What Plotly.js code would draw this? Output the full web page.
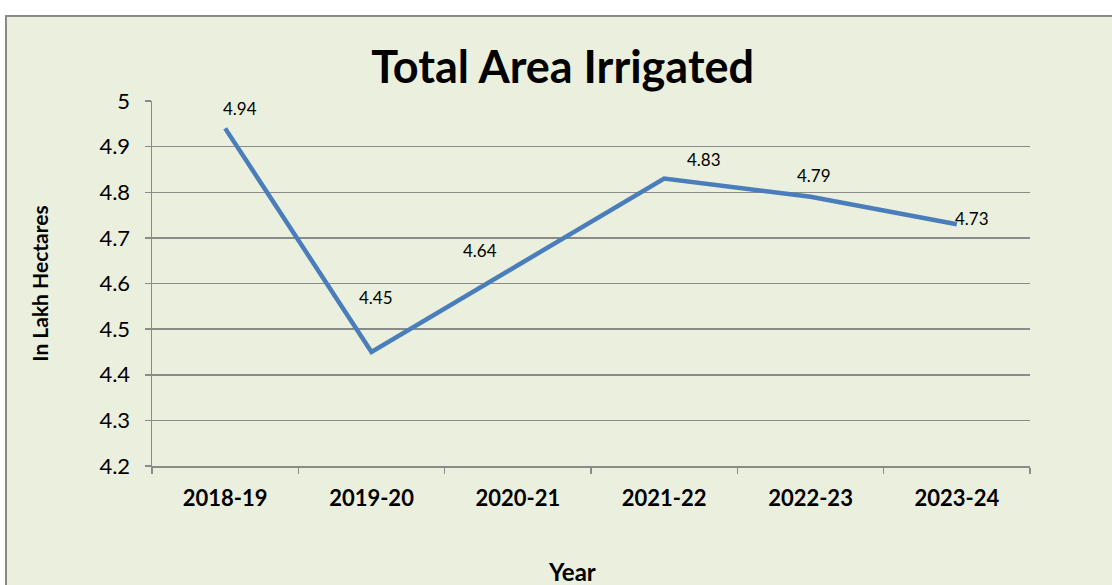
<!DOCTYPE html>
<html>
<head>
<meta charset="utf-8">
<script src="https://cdn.plot.ly/plotly-3.0.1.min.js"></script>
<style>html,body{margin:0;padding:0;background:#fff;}#chart{width:1112px;height:585px;}</style>
</head>
<body>
<div id="chart"></div>
<script>
const years = ["2018-19", "2019-20", "2020-21", "2021-22", "2022-23", "2023-24"];
const irrigatedArea = [4.94, 4.45, 4.64, 4.83, 4.79, 4.73];
const labelShiftX = [15, 4, -38, 40, 3, 15];
const labelShiftY = [20, 54, 15, 19, 21, 6];

const FONT = "Lato, 'Open Sans', sans-serif";
const GRID = "#8a8a8a";

const trace = {
  type: "scatter",
  mode: "lines",
  x: years,
  y: irrigatedArea,
  line: {color: "#4A7EBB", width: 4.5},
  hoverinfo: "x+y"
};

const annotations = years.map((yr, i) => ({
  x: yr, y: irrigatedArea[i], xref: "x", yref: "y",
  text: irrigatedArea[i].toFixed(2),
  showarrow: false, xshift: labelShiftX[i], yshift: labelShiftY[i],
  font: {family: FONT, size: 17, color: "#000"}
}));
annotations.push({
  text: "<b>Year</b>", showarrow: false,
  xref: "paper", yref: "paper",
  x: (572 - 152) / 878, y: (466 - 571) / 365,
  xanchor: "center", yanchor: "middle",
  font: {family: FONT, size: 24, color: "#000"}
});

const layout = {
  width: 1112, height: 585,
  margin: {l: 152, r: 82, t: 101, b: 119},
  paper_bgcolor: "#ffffff",
  plot_bgcolor: "rgba(0,0,0,0)",
  showlegend: false,
  title: {
    text: "<b>Total Area Irrigated</b>",
    font: {family: FONT, size: 45, color: "#000"},
    xref: "container", x: 0.506, xanchor: "center",
    yref: "container", y: 0.885, yanchor: "middle"
  },
  xaxis: {
    type: "category",
    range: [-0.5, 5.5],
    tickson: "boundaries",
    ticks: "outside", ticklen: 6, tickcolor: GRID, tickwidth: 1.5,
    showline: true, linecolor: GRID, linewidth: 1.5,
    showgrid: false, zeroline: false,
    tickfont: {family: FONT, size: 22, color: "#000", weight: "bold"},
    ticklabelstandoff: 12,
    fixedrange: true
  },
  yaxis: {
    range: [4.2, 5],
    dtick: 0.1, tick0: 4.2,
    ticks: "outside", ticklen: 6, tickcolor: GRID, tickwidth: 1.5,
    showline: true, linecolor: GRID, linewidth: 1.5,
    showgrid: true, gridcolor: GRID, gridwidth: 1.5,
    zeroline: false,
    tickfont: {family: FONT, size: 22, color: "#000"},
    ticklabelstandoff: 10,
    title: {text: "<b>In Lakh Hectares</b>", font: {family: FONT, size: 21, color: "#000"}, standoff: 45},
    fixedrange: true
  },
  shapes: [{
    type: "rect", xref: "paper", yref: "paper", layer: "below",
    x0: (6 - 152) / 878, x1: 1.11, y0: -0.4, y1: (466 - 16) / 365,
    fillcolor: "#EBEFDE", line: {color: "#8a8a8a", width: 2}
  }],
  annotations: annotations
};

Plotly.newPlot("chart", [trace], layout, {displayModeBar: false, staticPlot: true});
</script>
</body>
</html>
